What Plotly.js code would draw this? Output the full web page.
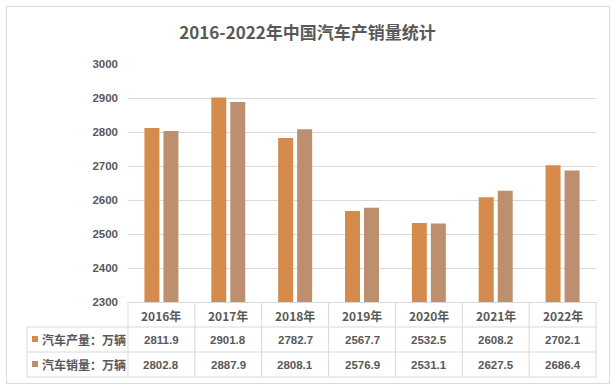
<!DOCTYPE html>
<html>
<head>
<meta charset="utf-8">
<script src="https://cdn.plot.ly/plotly-3.0.1.min.js"></script>
<style>html,body{margin:0;padding:0;background:#fff;}#chart{width:615px;height:389px;}</style>
</head>
<body>
<div id="chart"></div>
<script>
var years = ['2016年','2017年','2018年','2019年','2020年','2021年','2022年'];
var production = [2811.9, 2901.8, 2782.7, 2567.7, 2532.5, 2608.2, 2702.1];
var sales = [2802.8, 2887.9, 2808.1, 2576.9, 2531.1, 2627.5, 2686.4];
var seriesNames = ['汽车产量：万辆', '汽车销量：万辆'];
var seriesColors = ['#D58B4C', '#BD8F6E'];
var yTicks = [2300, 2400, 2500, 2600, 2700, 2800, 2900, 3000];

var W = 615, H = 389;
var L = 128, R = 19, T = 64, B = 87;
var pw = W - L - R, ph = H - T - B;
function px(x){ return (x - L) / pw; }
function py(y){ return (H - B - y) / ph; }

var gray = '#D9D9D9';
var textColor = '#595959';
var numFont = {family: 'Liberation Sans, Noto Sans CJK SC, sans-serif', size: 11.5, color: textColor, weight: 'bold'};
var cjkFont = {family: 'Noto Sans CJK SC, sans-serif', size: 12, color: textColor, weight: 'bold'};

var xIdx = years.map(function(_, i){ return i; });
var data = [
  {type: 'bar', x: xIdx, y: production, name: seriesNames[0], marker: {color: seriesColors[0]}, hoverinfo: 'y'},
  {type: 'bar', x: xIdx, y: sales, name: seriesNames[1], marker: {color: seriesColors[1]}, hoverinfo: 'y'}
];

var shapes = [];
var annotations = [];
var n = years.length;
var rowLines = [327, 352, 377];
var rowCenters = [339.5, 364.5];
shapes.push({type: 'rect', xref: 'paper', yref: 'paper', x0: px(6.5), x1: px(609.5), y0: py(6.5), y1: py(383.5), line: {color: gray, width: 1}, layer: 'below'});
rowLines.forEach(function(yy){
  shapes.push({type: 'line', xref: 'paper', yref: 'paper', x0: px(27), x1: 1, y0: py(yy), y1: py(yy), line: {color: gray, width: 1}});
});
for (var k = 0; k <= n; k++) {
  shapes.push({type: 'line', xref: 'paper', yref: 'paper', x0: k / n, x1: k / n, y0: py(302), y1: py(377), line: {color: gray, width: 1}});
}
shapes.push({type: 'line', xref: 'paper', yref: 'paper', x0: px(27), x1: px(27), y0: py(327), y1: py(377), line: {color: gray, width: 1}});

years.forEach(function(yr, i){
  annotations.push({xref: 'x', yref: 'paper', x: i, y: py(315), text: yr, showarrow: false, font: cjkFont, xanchor: 'center', yanchor: 'middle'});
});
var rows = [production, sales];
rows.forEach(function(vals, r){
  vals.forEach(function(v, i){
    annotations.push({xref: 'x', yref: 'paper', x: i, y: py(rowCenters[r]), text: v.toFixed(1), showarrow: false, font: numFont, xanchor: 'center', yanchor: 'middle'});
  });
  annotations.push({xref: 'paper', yref: 'paper', x: px(40), y: py(rowCenters[r]), text: seriesNames[r], showarrow: false, font: cjkFont, xanchor: 'left', yanchor: 'middle'});
  shapes.push({type: 'rect', xref: 'paper', yref: 'paper', x0: px(32), x1: px(38), y0: py(rowCenters[r] - 3.5), y1: py(rowCenters[r] + 2.5), fillcolor: seriesColors[r], line: {width: 0}});
});

var layout = {
  width: W, height: H,
  margin: {l: L, r: R, t: T, b: B, pad: 0},
  paper_bgcolor: '#ffffff', plot_bgcolor: '#ffffff',
  title: {text: '2016-2022年中国汽车产销量统计', font: {family: 'Noto Sans CJK SC, sans-serif', size: 17, color: textColor, weight: 'bold'}, x: 0.5, xref: 'container', xanchor: 'center', y: 1 - 33 / H, yref: 'container', yanchor: 'middle'},
  showlegend: false,
  barmode: 'group',
  bargap: 0.432,
  bargroupgap: 0.21,
  xaxis: {range: [-0.5, n - 0.5], showticklabels: false, showgrid: false, zeroline: false, showline: true, linecolor: gray, linewidth: 1, ticks: '', fixedrange: true},
  yaxis: {range: [2300, 3000], tickvals: yTicks, ticktext: yTicks.map(String), showgrid: true, gridcolor: gray, gridwidth: 1, zeroline: false, showline: false, ticks: '', tickfont: numFont, ticklabelstandoff: 9, fixedrange: true},
  shapes: shapes,
  annotations: annotations
};

Plotly.newPlot('chart', data, layout, {displayModeBar: false, staticPlot: true});
</script>
</body>
</html>
